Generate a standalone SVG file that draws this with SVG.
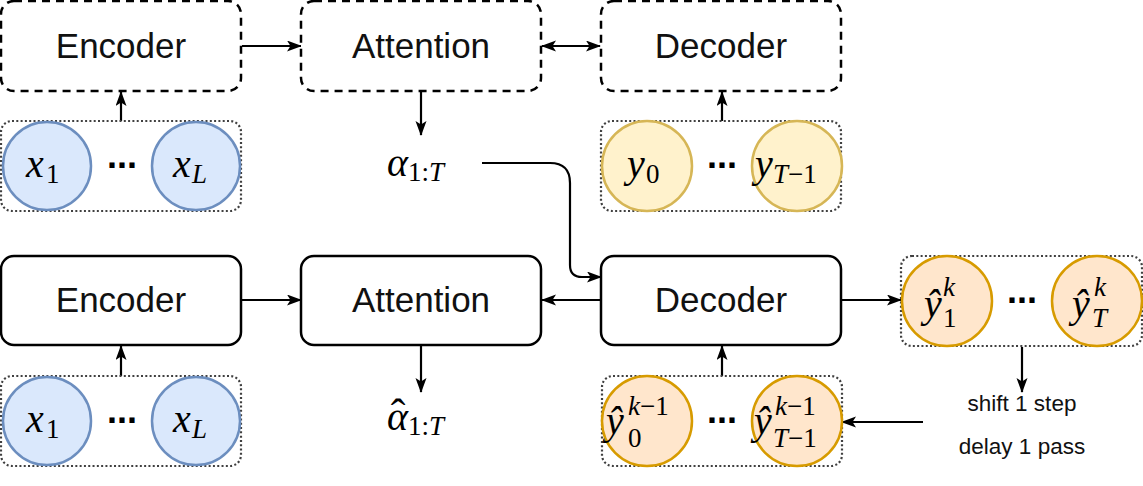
<svg xmlns="http://www.w3.org/2000/svg" width="1143" height="486" viewBox="0 0 1143 486">
<style>
.box{fill:#fff;stroke:#000;stroke-width:2.5}
.dash{stroke-dasharray:8 6}
.grp{fill:#fff;stroke:#404040;stroke-width:2.2;stroke-dasharray:2 2.3}
.lbl{font-family:"Liberation Sans",Arial,sans-serif;font-size:35px;fill:#111;text-anchor:middle}
.note{font-family:"Liberation Sans",Arial,sans-serif;font-size:22.5px;fill:#111;text-anchor:middle}
.blue{fill:#dae8fc;stroke:#6c8ebf;stroke-width:2.5}
.yel{fill:#fff2cc;stroke:#d6b656;stroke-width:2.5}
.org{fill:#ffe6cc;stroke:#d79b00;stroke-width:2.5}
.m{font-family:"Liberation Serif","Times New Roman",serif;font-style:italic;font-size:40px;fill:#000}
.s{font-family:"Liberation Serif","Times New Roman",serif;font-style:normal;font-size:27px;fill:#000}
.si{font-style:italic}
.hat{font-family:"Liberation Serif","Times New Roman",serif;font-style:normal;font-size:44px;text-anchor:middle}
.dots{font-family:"Liberation Sans",Arial,sans-serif;font-weight:bold;font-size:36px;fill:#000;text-anchor:middle}
.c{fill:none;stroke:#000;stroke-width:2.2}
</style>
<defs>
<marker id="ah" markerUnits="userSpaceOnUse" markerWidth="16" markerHeight="12" refX="14" refY="5.5" orient="auto-start-reverse" viewBox="0 0 16 12">
<path d="M0,0 L15,5.5 L0,11 L3.5,5.5 Z" fill="#000"/>
</marker>
</defs>

<!-- connectors -->
<g id="connectors">
<path class="c" d="M242,46 L301,46" marker-end="url(#ah)"/>
<path class="c" d="M542,46 L600,46" marker-start="url(#ah)" marker-end="url(#ah)"/>
<path class="c" d="M121,121 L121,92" marker-end="url(#ah)"/>
<path class="c" d="M722,121 L722,92" marker-end="url(#ah)"/>
<path class="c" d="M421,92 L421,135" marker-end="url(#ah)"/>
<path class="c" d="M482,163 L550,163 Q570,163 570,183 L570,265 Q570,277 582,277 L601,277" marker-end="url(#ah)"/>
<path class="c" d="M242,300 L301,300" marker-end="url(#ah)"/>
<path class="c" d="M601,300 L542,300" marker-end="url(#ah)"/>
<path class="c" d="M841,300 L901,300" marker-end="url(#ah)"/>
<path class="c" d="M121,376 L121,346" marker-end="url(#ah)"/>
<path class="c" d="M722,376 L722,346" marker-end="url(#ah)"/>
<path class="c" d="M421,346 L421,392" marker-end="url(#ah)"/>
<path class="c" d="M1022,347 L1022,392" marker-end="url(#ah)"/>
<path class="c" d="M923,422 L842,422" marker-end="url(#ah)"/>
</g>

<!-- top row -->
<g id="enc-top">
<rect class="box dash" x="1" y="1" width="240" height="90" rx="13"/>
<text class="lbl" x="121" y="58">Encoder</text>
</g>
<g id="att-top">
<rect class="box dash" x="301" y="1" width="240" height="90" rx="13"/>
<text class="lbl" x="421" y="58">Attention</text>
</g>
<g id="dec-top">
<rect class="box dash" x="601" y="1" width="240" height="90" rx="13"/>
<text class="lbl" x="721" y="58">Decoder</text>
</g>

<g id="x-top">
<rect class="grp" x="1" y="121" width="240" height="90" rx="11"/>
<circle class="blue" cx="47" cy="166" r="44"/>
<circle class="blue" cx="196" cy="166" r="44"/>
<text class="m" x="26" y="177">x</text><text class="s" x="46" y="183">1</text>
<text class="dots" x="122" y="168">...</text>
<text class="m" x="173" y="177">x</text><text class="s si" x="192" y="183">L</text>
</g>

<g id="alpha-top">
<text class="m" x="387" y="176">α</text><text class="s" x="408" y="181">1:<tspan class="si">T</tspan></text>
</g>

<g id="y-top">
<rect class="grp" x="601" y="121" width="240" height="90" rx="11"/>
<circle class="yel" cx="647" cy="166" r="45"/>
<circle class="yel" cx="797" cy="166" r="45"/>
<text class="m" x="627" y="177">y</text><text class="s" x="646" y="183">0</text>
<text class="dots" x="722" y="168">...</text>
<text class="m" x="755" y="177">y</text><text class="s" x="773" y="183"><tspan class="si">T</tspan>−1</text>
</g>

<!-- bottom row -->
<g id="enc-bot">
<rect class="box" x="1" y="256" width="240" height="89" rx="13"/>
<text class="lbl" x="121" y="312">Encoder</text>
</g>
<g id="att-bot">
<rect class="box" x="301" y="256" width="240" height="89" rx="13"/>
<text class="lbl" x="421" y="312">Attention</text>
</g>
<g id="dec-bot">
<rect class="box" x="601" y="256" width="240" height="89" rx="13"/>
<text class="lbl" x="721" y="312">Decoder</text>
</g>

<g id="x-bot">
<rect class="grp" x="1" y="376" width="240" height="90" rx="11"/>
<circle class="blue" cx="47" cy="421" r="44"/>
<circle class="blue" cx="196" cy="421" r="44"/>
<text class="m" x="26" y="432">x</text><text class="s" x="46" y="438">1</text>
<text class="dots" x="122" y="423">...</text>
<text class="m" x="173" y="432">x</text><text class="s si" x="192" y="438">L</text>
</g>

<g id="alpha-bot">
<text class="m" x="387" y="430">α<tspan class="hat" x="398" y="429">ˆ</tspan><tspan class="s" x="408" y="435">1:<tspan class="si">T</tspan></tspan></text>
</g>

<g id="yk-out">
<rect class="grp" x="901" y="256" width="241" height="90" rx="11"/>
<circle class="org" cx="947" cy="301" r="45"/>
<circle class="org" cx="1097" cy="301" r="45"/>
<text class="m" x="924" y="317">ŷ</text><text class="s si" x="943" y="296">k</text><text class="s" x="943" y="327">1</text>
<text class="dots" x="1022" y="303">...</text>
<text class="m" x="1072" y="317">ŷ</text><text class="s si" x="1094" y="296">k</text><text class="s si" x="1092" y="327">T</text>
</g>

<g id="yk-in">
<rect class="grp" x="602" y="376" width="240" height="90" rx="11"/>
<circle class="org" cx="647" cy="421" r="45"/>
<circle class="org" cx="797" cy="421" r="45"/>
<text class="m" x="606" y="434">ŷ</text><text class="s" x="628" y="415"><tspan class="si">k</tspan>−1</text><text class="s" x="628" y="447">0</text>
<text class="dots" x="722" y="423">...</text>
<text class="m" x="754" y="434">ŷ</text><text class="s" x="775" y="415"><tspan class="si">k</tspan>−1</text><text class="s" x="773" y="447"><tspan class="si">T</tspan>−1</text>
</g>

<g id="notes">
<text class="note" x="1022" y="411">shift 1 step</text>
<text class="note" x="1022" y="454">delay 1 pass</text>
</g>
</svg>
